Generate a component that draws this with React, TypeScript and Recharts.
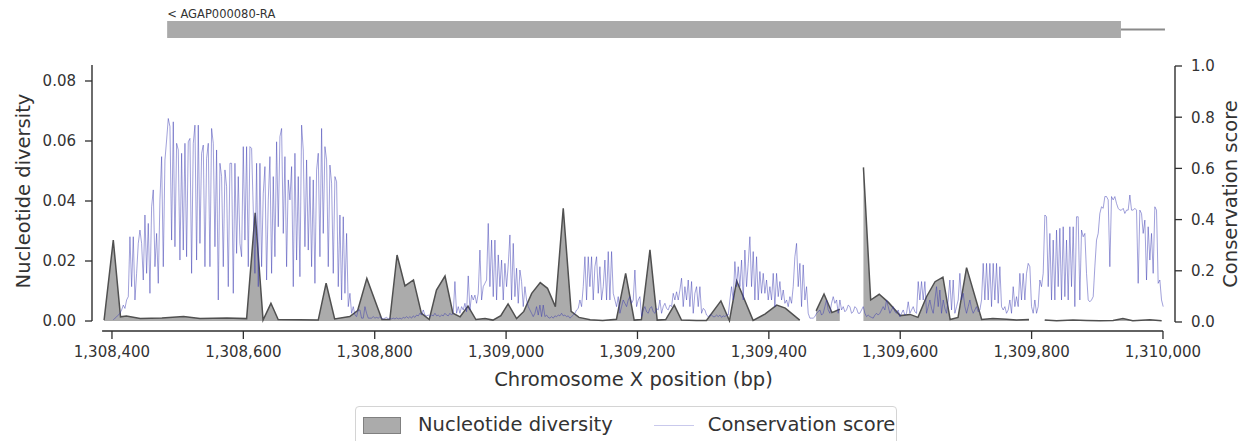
import React from 'react';
import {
  ComposedChart,
  Area,
  Line,
  XAxis,
  YAxis,
  ReferenceLine,
  ReferenceArea,
  Legend,
  Label,
} from 'recharts';

// ---- data ----
const xTicks = [1308400, 1308600, 1308800, 1309000, 1309200, 1309400, 1309600, 1309800, 1310000];
const divTicks = [0, 0.02, 0.04, 0.06, 0.08];
const consTicks = [0, 0.2, 0.4, 0.6, 0.8, 1.0];

// nucleotide diversity windows (null = no data)
const divPos = [
  1308388, 1308402, 1308413, 1308422, 1308443, 1308476, 1308509, 1308534, 1308575, 1308605,
  1308618, 1308630, 1308642, 1308653, 1308686, 1308714, 1308726, 1308739, 1308762, 1308774,
  1308788, 1308811, 1308823, 1308834, 1308846, 1308859, 1308871, 1308883, 1308894, 1308907,
  1308919, 1308930, 1308942, 1308954, 1308968, 1308980, 1308992, 1309003, 1309016, 1309027,
  1309039, 1309052, 1309063, 1309075, 1309087, 1309099, 1309111, 1309128, 1309147, 1309168,
  1309182, 1309195, 1309206, 1309219, 1309230, 1309243, 1309256, 1309267, 1309290, 1309305,
  1309327, 1309340, 1309351, 1309376, 1309394, 1309412, 1309425, 1309447, 1309460,
  1309472, 1309484, 1309496, 1309508, 1309525,
  1309544, 1309555, 1309568, 1309582, 1309600, 1309615, 1309627, 1309640, 1309653, 1309665,
  1309676, 1309688, 1309701, 1309724, 1309741, 1309762, 1309777, 1309796, 1309808,
  1309820, 1309838, 1309863, 1309884, 1309904, 1309924, 1309939, 1309954, 1309980, 1309998,
];
const divVal: (number | null)[] = [
  0.0003, 0.027, 0.0014, 0.0017, 0.0008, 0.001, 0.0015, 0.0008, 0.001, 0.0008,
  0.0361, 0.0003, 0.0059, 0.0005, 0.0004, 0.0003, 0.0126, 0.0007, 0.0015, 0.0035,
  0.0142, 0.0005, 0.0005, 0.022, 0.0117, 0.0137, 0.0026, 0.0005, 0.0103, 0.015,
  0.0026, 0.0014, 0.005, 0.0005, 0.0008, 0.0003, 0.0018, 0.0057, 0.0008, 0.0032,
  0.0092, 0.0128, 0.0109, 0.0048, 0.0376, 0.0032, 0.0012, 0.0004, 0.0002, 0.0006,
  0.0159, 0.0003, 0.0005, 0.0237, 0.0003, 0.0005, 0.0053, 0.0003, 0.0002, 0.0002,
  0.0067, 0.0001, 0.0134, 0.0002, 0.0023, 0.0053, 0.0043, 0.0003, null,
  0.0034, 0.009, 0.0028, 0.0039, null,
  0.0512, 0.007, 0.0089, 0.0062, 0.0018, 0.0022, 0.0012, 0.0081, 0.0131, 0.0146,
  0.0005, 0.0012, 0.0178, 0.0005, 0.0008, 0.0006, 0.0003, 0.0005, null,
  0.0003, 0.0001, 0.0003, 0.0002, 0.0001, 0.0002, 0.0008, 0.0001, 0.0004, 0.0001,
];

// conservation score, one value per grid step from CONS_START
const CONS_START = 1308402;
const CONS_STEP = 2.537;
const consA = [
  0.008, 0.015, 0.02, 0.027, 0.034, 0.047, 0.066, 0.053, 0.086, 0.099,
  0.333, 0.138, 0.333, 0.086, 0.19, 0.307, 0.359, 0.307, 0.164, 0.418,
  0.19, 0.385, 0.112, 0.45, 0.516, 0.216, 0.346, 0.151, 0.477, 0.646,
  0.216, 0.633, 0.711, 0.795, 0.763, 0.32, 0.782, 0.294, 0.698, 0.672,
  0.242, 0.659, 0.281, 0.698, 0.255, 0.704, 0.717, 0.19, 0.698, 0.769,
  0.242, 0.769, 0.307, 0.659, 0.691, 0.216, 0.639, 0.698, 0.216, 0.756,
  0.698, 0.294, 0.672, 0.086, 0.62, 0.568, 0.216, 0.594, 0.529, 0.138,
  0.62, 0.62, 0.112, 0.62, 0.268, 0.568, 0.307, 0.255, 0.685, 0.32,
  0.685, 0.216, 0.685, 0.678, 0.437, 0.19, 0.62, 0.138, 0.62, 0.216,
  0.503, 0.607, 0.164, 0.477, 0.646, 0.19, 0.568, 0.255, 0.704, 0.372,
  0.724, 0.756, 0.346, 0.646, 0.216, 0.555, 0.477, 0.607, 0.138, 0.659,
  0.242, 0.568, 0.177, 0.769, 0.672, 0.294, 0.633, 0.281, 0.568, 0.216,
  0.555, 0.151, 0.594, 0.659, 0.255, 0.756, 0.346, 0.685, 0.633, 0.216,
  0.613, 0.542, 0.19, 0.568, 0.548, 0.138, 0.418, 0.086, 0.411, 0.112,
  0.346, 0.06, 0.112, 0.034, 0.06, 0.027, 0.021, 0.047, 0.047, 0.015,
  0.015, 0.06, 0.034, 0.015,
];
const consB = [
  0.015, 0.015, 0.021, 0.015, 0.018, 0.015, 0.021, 0.015, 0.012, 0.015,
  0.018, 0.012, 0.015, 0.012, 0.015, 0.012, 0.016, 0.012, 0.015, 0.012,
  0.018, 0.015, 0.021, 0.015, 0.021, 0.015, 0.024, 0.018, 0.027, 0.024,
  0.034, 0.027, 0.047, 0.027, 0.024, 0.027, 0.021, 0.027, 0.024, 0.034,
  0.024, 0.027, 0.021, 0.027, 0.024, 0.034, 0.027, 0.024, 0.034, 0.027,
  0.034, 0.158, 0.034, 0.06, 0.034, 0.06, 0.047, 0.073, 0.04, 0.18,
  0.047, 0.105, 0.086, 0.105, 0.073, 0.112, 0.281, 0.086, 0.138, 0.151,
  0.164, 0.385, 0.138, 0.32, 0.099, 0.32, 0.086, 0.262, 0.138, 0.242,
  0.086, 0.229, 0.138, 0.223, 0.34, 0.086, 0.307, 0.099, 0.21, 0.073,
  0.203, 0.158, 0.06, 0.138, 0.086, 0.06, 0.047, 0.034, 0.021, 0.034,
  0.06, 0.027, 0.066, 0.021, 0.066, 0.021, 0.027, 0.018, 0.015, 0.021,
  0.015, 0.024, 0.021, 0.027, 0.024, 0.034, 0.024, 0.027, 0.021, 0.024,
  0.015, 0.021, 0.027, 0.034, 0.047, 0.053, 0.086, 0.06, 0.138, 0.255,
  0.086, 0.255, 0.138, 0.255, 0.086, 0.216, 0.255, 0.112, 0.216, 0.086,
  0.138, 0.242, 0.086, 0.275, 0.086, 0.275, 0.112, 0.086, 0.06, 0.099,
  0.034, 0.06, 0.086, 0.073, 0.06, 0.086, 0.099, 0.073, 0.086, 0.203,
  0.06, 0.086,
];
const consC = [
  0.099, 0.021, 0.047, 0.06, 0.04, 0.034, 0.053, 0.06, 0.04, 0.034,
  0.053, 0.047, 0.086, 0.034, 0.06, 0.073, 0.053, 0.047, 0.066, 0.06,
  0.112, 0.086, 0.118, 0.086, 0.125, 0.171, 0.06, 0.138, 0.086, 0.164,
  0.06, 0.158, 0.034, 0.112, 0.138, 0.06, 0.138, 0.034, 0.053, 0.047,
  0.027, 0.021, 0.027, 0.027, 0.021, 0.021, 0.027, 0.021, 0.027, 0.018,
  0.024, 0.021, 0.027, 0.027, 0.086, 0.138, 0.086, 0.236, 0.138, 0.216,
  0.138, 0.242, 0.086, 0.281, 0.138, 0.229, 0.333, 0.138, 0.275, 0.086,
  0.255, 0.086, 0.197, 0.112, 0.19, 0.112, 0.164, 0.086, 0.138, 0.086,
  0.19, 0.06, 0.19, 0.099, 0.158, 0.086, 0.125, 0.073, 0.086, 0.06,
  0.099, 0.073, 0.138, 0.255, 0.307, 0.138, 0.229, 0.06, 0.223, 0.086,
  0.138, 0.034, 0.015, 0.015, 0.015, 0.021, 0.034, 0.04, 0.047, 0.027,
  0.034, 0.06, 0.086, 0.047, 0.034, 0.073, 0.099, 0.073, 0.086, 0.034,
  0.086, 0.047, 0.06, 0.04, 0.047, 0.066, 0.06, 0.034, 0.04, 0.06,
  0.053, 0.034, 0.034, 0.047, 0.06, 0.034, 0.021, 0.027, 0.021, 0.018,
  0.015, 0.027, 0.034, 0.027, 0.034, 0.047, 0.06, 0.047, 0.086, 0.06,
  0.034, 0.047, 0.06, 0.04, 0.034, 0.047,
];
const consD = [
  0.021, 0.034, 0.047, 0.027, 0.034, 0.079, 0.034, 0.047, 0.06, 0.04,
  0.034, 0.158, 0.086, 0.158, 0.086, 0.158, 0.034, 0.06, 0.086, 0.053,
  0.034, 0.086, 0.138, 0.06, 0.125, 0.034, 0.086, 0.053, 0.034, 0.086,
  0.164, 0.047, 0.164, 0.034, 0.06, 0.086, 0.19, 0.086, 0.112, 0.06,
  0.034, 0.06, 0.086, 0.053, 0.034, 0.047, 0.06, 0.04, 0.047, 0.086,
  0.229, 0.086, 0.229, 0.086, 0.229, 0.06, 0.229, 0.086, 0.229, 0.073,
  0.216, 0.06, 0.047, 0.06, 0.034, 0.047, 0.086, 0.034, 0.138, 0.06,
  0.099, 0.06, 0.19, 0.086, 0.19, 0.086, 0.19, 0.229, 0.216, 0.06,
  0.034, 0.086, 0.034, 0.06, 0.164, 0.138, 0.19, 0.418, 0.411, 0.138,
  0.346, 0.086, 0.32, 0.086, 0.359, 0.138, 0.366, 0.086, 0.372, 0.099,
  0.32, 0.086, 0.372, 0.138, 0.372, 0.06, 0.411, 0.411, 0.086, 0.359,
  0.333, 0.346, 0.19, 0.086, 0.079, 0.086, 0.099, 0.216, 0.32, 0.346,
  0.424, 0.45, 0.444, 0.49, 0.49, 0.477, 0.216, 0.49, 0.477, 0.49,
  0.463, 0.444, 0.437, 0.437, 0.444, 0.424, 0.437, 0.437, 0.496, 0.437,
  0.437, 0.444, 0.437, 0.151, 0.437, 0.424, 0.346, 0.398, 0.164, 0.372,
  0.242, 0.346, 0.19, 0.45, 0.437, 0.151, 0.164, 0.086, 0.06,
];

// gene track
const geneName = '< AGAP000080-RA';
const geneStart = 1308484;
const geneCdsEnd = 1309936;
const geneEnd = 1310003;

// ---- layout / style ----
const W = 1249;
const H = 441;
const FONT = '"DejaVu Sans", Verdana, sans-serif';
const TEXT = '#333333';
const AXIS = '#2e2e2e';
const DIV_FILL = '#ababab';
const DIV_STROKE = '#505050';
const CONS_STROKE = '#3434b0';
const TITLE_SIZE = 19.5;

const X_DOMAIN: [number, number] = [1308369.6, 1310018.3];
const X_LINE_START = 1308385;
const YL_DOMAIN: [number, number] = [-0.00333, 0.08533];
const YR_DOMAIN: [number, number] = [-0.0352, 1.0039];
// gene track sits above the plot, in right-axis units
const GENE_Y1 = 1.1094;
const GENE_Y2 = 1.1758;
const GENE_YMID = 1.1426;

const fmtX = (v: number) => v.toLocaleString('en-US');

const renderLegend = (props: any) => {
  const payload = [...(props.payload || [])].sort(
    (a: any, b: any) => (a.type === 'rect' ? 0 : 1) - (b.type === 'rect' ? 0 : 1)
  );
  return (
    <div
      style={{
        boxSizing: 'border-box',
        width: 542,
        height: 46,
        border: '1px solid #d4d4d4',
        borderRadius: 4,
        background: '#fff',
        display: 'flex',
        alignItems: 'flex-start',
        paddingLeft: 7,
        paddingTop: 8,
        fontFamily: FONT,
        fontSize: TITLE_SIZE,
        color: TEXT,
        whiteSpace: 'nowrap',
      }}
    >
      {payload.map((entry: any, i: number) => (
        <div key={i} style={{ display: 'flex', alignItems: 'center', marginRight: 41, height: 20, flexShrink: 0 }}>
          {entry.type === 'rect' ? (
            <span
              style={{
                display: 'inline-block',
                boxSizing: 'border-box',
                width: 38,
                height: 17,
                background: DIV_FILL,
                border: '1px solid #808080',
                marginRight: 17,
                flexShrink: 0,
              }}
            />
          ) : (
            <span
              style={{
                display: 'inline-block',
                width: 40,
                height: 0,
                borderTop: '1.5px solid #c9c9ec',
                marginRight: 14,
                flexShrink: 0,
              }}
            />
          )}
          <span style={{ lineHeight: '20px' }}>{entry.value}</span>
        </div>
      ))}
    </div>
  );
};

export default function App() {
  const divData = divPos.map((pos, i) => ({ pos, div: divVal[i] }));
  const consVals = [...consA, ...consB, ...consC, ...consD];
  const consData = consVals.map((v, i) => ({ pos: CONS_START + i * CONS_STEP, cons: v }));

  const tickStyle = { fill: TEXT, fontSize: 15, fontFamily: FONT };
  const tickLine = { stroke: AXIS, strokeWidth: 1.3 };

  return (
    <div style={{ position: 'absolute', left: 0, top: 0, width: W, height: H, background: '#fff', fontFamily: FONT }}>
      <ComposedChart width={W} height={H} margin={{ top: 65, right: 0, bottom: 50, left: 0 }}>
        <XAxis
          type="number"
          dataKey="pos"
          domain={X_DOMAIN}
          allowDataOverflow
          ticks={xTicks}
          tickFormatter={fmtX}
          axisLine={false}
          stroke={AXIS}
          tickLine={tickLine}
          tickSize={8}
          tickMargin={7}
          tick={tickStyle}
          height={60}
        >
          <Label
            content={(p: any) => {
              const vb = p.viewBox;
              return (
                <text x={vb.x + vb.width / 2} y={vb.y + 55} textAnchor="middle" fill={TEXT} fontSize={TITLE_SIZE} fontFamily={FONT}>
                  Chromosome X position (bp)
                </text>
              );
            }}
          />
        </XAxis>
        <YAxis
          yAxisId="left"
          orientation="left"
          domain={YL_DOMAIN}
          allowDataOverflow
          ticks={divTicks}
          tickFormatter={(v: number) => v.toFixed(2)}
          width={92}
          axisLine={false}
          stroke={AXIS}
          tickLine={tickLine}
          tickSize={7}
          tickMargin={9}
          tick={tickStyle}
        >
          <Label
            content={(p: any) => {
              const vb = p.viewBox;
              const cy = vb.y + 126;
              return (
                <text x={30} y={cy} transform={`rotate(-90, 30, ${cy})`} textAnchor="middle" fill={TEXT} fontSize={TITLE_SIZE} fontFamily={FONT}>
                  Nucleotide diversity
                </text>
              );
            }}
          />
        </YAxis>
        <YAxis
          yAxisId="right"
          orientation="right"
          domain={YR_DOMAIN}
          allowDataOverflow
          ticks={consTicks}
          tickFormatter={(v: number) => v.toFixed(1)}
          width={74}
          axisLine={false}
          stroke={AXIS}
          tickLine={tickLine}
          tickSize={7}
          tickMargin={9}
          tick={tickStyle}
        >
          <Label
            content={(p: any) => {
              const vb = p.viewBox;
              const cx = vb.x + 62;
              const cy = vb.y + 129;
              return (
                <text x={cx} y={cy} transform={`rotate(-90, ${cx}, ${cy})`} textAnchor="middle" fill={TEXT} fontSize={TITLE_SIZE} fontFamily={FONT}>
                  Conservation score
                </text>
              );
            }}
          />
        </YAxis>

        {/* gene track above the plot */}
        <ReferenceArea
          yAxisId="right"
          x1={geneStart}
          x2={geneCdsEnd}
          y1={GENE_Y1}
          y2={GENE_Y2}
          fill="#aaaaaa"
          fillOpacity={1}
          stroke="none"
          ifOverflow="visible"
        >
          <Label
            content={(p: any) => {
              const vb = p.viewBox;
              return (
                <text x={vb.x} y={vb.y - 3} fill={TEXT} fontSize={11.5} fontFamily={FONT}>
                  {geneName}
                </text>
              );
            }}
          />
        </ReferenceArea>
        <ReferenceLine
          yAxisId="right"
          segment={[{ x: geneCdsEnd, y: GENE_YMID }, { x: geneEnd, y: GENE_YMID }]}
          stroke="#8a8a8a"
          strokeWidth={2}
          ifOverflow="visible"
        />

        <Area
          yAxisId="left"
          data={divData}
          dataKey="div"
          name="Nucleotide diversity"
          type="linear"
          baseValue={0}
          connectNulls={false}
          fill={DIV_FILL}
          fillOpacity={1}
          stroke={DIV_STROKE}
          strokeWidth={1.5}
          legendType="rect"
          dot={false}
          activeDot={false}
          isAnimationActive={false}
        />
        <Line
          yAxisId="right"
          data={consData}
          dataKey="cons"
          name="Conservation score"
          type="linear"
          stroke={CONS_STROKE}
          strokeOpacity={0.55}
          strokeWidth={0.85}
          legendType="line"
          dot={false}
          activeDot={false}
          isAnimationActive={false}
        />

        {/* despined axis lines */}
        <ReferenceLine
          yAxisId="left"
          segment={[{ x: X_DOMAIN[0], y: 0 }, { x: X_DOMAIN[0], y: YL_DOMAIN[1] }]}
          stroke={AXIS}
          strokeWidth={1.4}
          ifOverflow="visible"
        />
        <ReferenceLine
          yAxisId="right"
          segment={[{ x: X_DOMAIN[1], y: 0 }, { x: X_DOMAIN[1], y: 1 }]}
          stroke={AXIS}
          strokeWidth={1.4}
          ifOverflow="visible"
        />
        <ReferenceLine
          yAxisId="left"
          segment={[{ x: X_LINE_START, y: YL_DOMAIN[0] }, { x: xTicks[xTicks.length - 1], y: YL_DOMAIN[0] }]}
          stroke={AXIS}
          strokeWidth={1.4}
          ifOverflow="visible"
        />

        <Legend
          layout="horizontal"
          verticalAlign="middle"
          align="center"
          wrapperStyle={{ left: 355, top: 406, width: 542, height: 46 }}
          content={renderLegend}
        />
      </ComposedChart>
    </div>
  );
}
